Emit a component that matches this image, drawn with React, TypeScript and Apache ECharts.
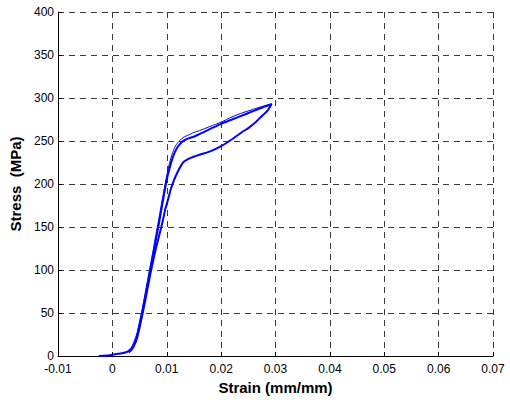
import React, { useEffect, useRef } from "react";
import * as echarts from "echarts";

// Cycle 1: loading branch
const load1Strain = [-0.0025, -0.001, 0.0, 0.001, 0.002, 0.0028, 0.0035, 0.004, 0.0045, 0.005, 0.0055, 0.006, 0.0065, 0.007, 0.0075, 0.008, 0.0085, 0.009, 0.0095, 0.01, 0.0105, 0.011, 0.0115, 0.012, 0.013, 0.014, 0.015, 0.016, 0.018, 0.02, 0.022, 0.024, 0.026, 0.028, 0.0293];
const load1Stress = [0, 0.5, 1.5, 2.5, 3.5, 5, 8, 14, 22, 36, 51, 67, 84, 101, 118, 135, 152, 170, 188, 205, 218, 229, 237, 243, 250, 253, 255, 258, 264, 270, 275, 280, 285, 290, 293];

// Cycle 1: unloading branch
const unload1Strain = [0.0293, 0.0285, 0.0275, 0.027, 0.026, 0.025, 0.024, 0.022, 0.02, 0.018, 0.016, 0.0143, 0.013, 0.012, 0.0113, 0.0107, 0.0102, 0.0097, 0.0093, 0.0088, 0.008, 0.007, 0.006, 0.005, 0.0045, 0.004, 0.0035, 0.003];
const unload1Stress = [293, 285, 279, 276, 270, 265, 261, 252, 244, 238, 234, 230, 225, 214, 204, 193, 181, 170, 158, 145, 125, 96, 63, 33, 20, 12, 7, 4];

// Cycle 2: loading branch (thin line, slightly offset)
const load2Strain = [0.0028, 0.0035, 0.004, 0.0045, 0.005, 0.0055, 0.006, 0.0065, 0.007, 0.0075, 0.008, 0.0085, 0.009, 0.0095, 0.01, 0.0105, 0.011, 0.0115, 0.012, 0.013, 0.014, 0.015, 0.016, 0.018, 0.02, 0.022, 0.024, 0.026, 0.028, 0.0293];
const load2Stress = [6, 10, 17, 26, 40, 55, 72, 89, 106, 123, 141, 158, 176, 193, 210, 224, 235, 243, 248, 254, 257, 260, 262, 267, 272, 278, 283, 287, 291, 293];

const xTicks = { min: -0.01, max: 0.07, interval: 0.01 };
const yTicks = { min: 0, max: 400, interval: 50 };

const zip = (xs: number[], ys: number[]) => xs.map((x, i) => [x, ys[i]]);

export default function App() {
  const ref = useRef<HTMLDivElement>(null);
  useEffect(() => {
    if (!ref.current) return;
    const chart = echarts.init(ref.current, undefined, { renderer: "svg" });
    const font = "Liberation Sans, Arial, Helvetica, sans-serif";
    const gridLine = { show: true, lineStyle: { color: "#3a3a3a", type: [6, 5] as any, width: 1 } };
    chart.setOption({
      animation: false,
      backgroundColor: "#fff",
      grid: { left: 58, right: 17, top: 12, bottom: 44, containLabel: false },
      xAxis: {
        type: "value",
        min: xTicks.min,
        max: xTicks.max,
        interval: xTicks.interval,
        name: "Strain (mm/mm)",
        nameLocation: "middle",
        nameGap: 22,
        nameTextStyle: { fontFamily: font, fontSize: 15, fontWeight: "bold", color: "#000", verticalAlign: "top" },
        axisLine: { show: true, onZero: false, lineStyle: { color: "#000", width: 1 } },
        axisTick: { show: true, inside: true, length: 4, lineStyle: { color: "#000" } },
        axisLabel: {
          fontFamily: font, fontSize: 12, lineHeight: 12, color: "#000", margin: 7,
          formatter: (v: number) => String(+v.toFixed(2)),
        },
        splitLine: gridLine,
      },
      yAxis: {
        type: "value",
        min: yTicks.min,
        max: yTicks.max,
        interval: yTicks.interval,
        name: "Stress  (MPa)",
        nameLocation: "middle",
        nameGap: 33,
        nameTextStyle: { fontFamily: font, fontSize: 15, fontWeight: "bold", color: "#000" },
        axisLine: { show: true, onZero: false, lineStyle: { color: "#000", width: 1 } },
        axisTick: { show: true, inside: true, length: 4, lineStyle: { color: "#000" } },
        axisLabel: { fontFamily: font, fontSize: 12, lineHeight: 12, color: "#000", margin: 4, padding: [0, 0, 2, 0] },
        splitLine: gridLine,
      },
      series: [
        {
          type: "line",
          data: zip(load1Strain, load1Stress),
          showSymbol: false,
          smooth: 0.2,
          lineStyle: { color: "#0000ff", width: 2 },
        },
        {
          type: "line",
          data: zip(unload1Strain, unload1Stress),
          showSymbol: false,
          smooth: 0.2,
          lineStyle: { color: "#0000ff", width: 2 },
        },
        {
          type: "line",
          data: zip(load2Strain, load2Stress),
          showSymbol: false,
          smooth: 0.2,
          lineStyle: { color: "#0000ff", width: 1 },
        },
      ],
    });
    return () => chart.dispose();
  }, []);
  return <div ref={ref} style={{ position: "fixed", left: 0, top: 0, width: 510, height: 400 }} />;
}
